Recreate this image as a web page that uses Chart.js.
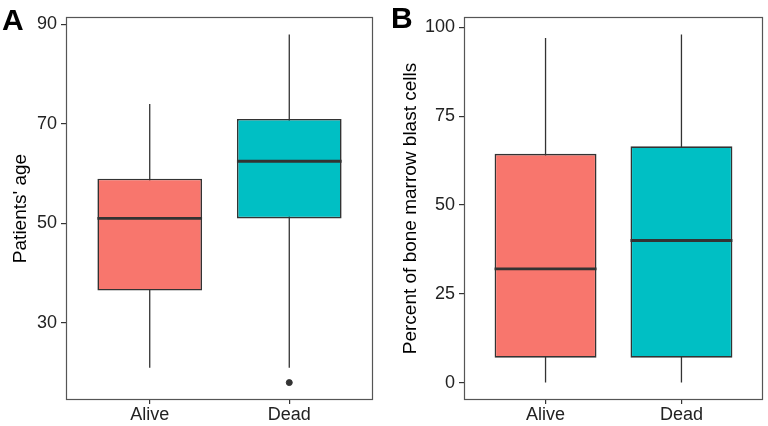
<!DOCTYPE html>
<html>
<head>
<meta charset="utf-8">
<script src="https://cdn.jsdelivr.net/npm/chart.js@4.4.1/dist/chart.umd.min.js"></script>
<style>
  body { margin: 0; background: #fff; }
  #wrap { position: relative; width: 768px; height: 426px; overflow: hidden; }
  canvas { position: absolute; top: 0; }
  .panel-label { position: absolute; font: bold 30px "Liberation Sans", Arial, sans-serif; color: #000; line-height: 1; }
</style>
</head>
<body>
<div id="wrap">
  <canvas id="chartA" width="384" height="426" style="left:0"></canvas>
  <canvas id="chartB" width="384" height="426" style="left:384px"></canvas>
  <div class="panel-label" style="left:2px; top:5px">A</div>
  <div class="panel-label" style="left:391px; top:3px">B</div>
</div>
<script>
// Categories and box plot statistics
const categories = ["Alive", "Dead"];

// Panel A: patients' age
const ageLow = [21, 21];
const ageQ1 = [36.5, 51];
const ageMedian = [51, 62.5];
const ageQ3 = [59, 71];
const ageHigh = [74, 88];
const ageOutliers = [[], [18]];
const ageTicks = [30, 50, 70, 90];

// Panel B: percent of bone marrow blast cells
const blastLow = [0, 0];
const blastQ1 = [7, 7];
const blastMedian = [32, 40];
const blastQ3 = [64.4, 66.5];
const blastHigh = [97, 98];
const blastOutliers = [[], []];
const blastTicks = [0, 25, 50, 75, 100];

const boxColors = ["#F8766D", "#00BFC4"];
const BOX_WIDTH = 0.75;

Chart.defaults.font.family = '"Liberation Sans", Arial, sans-serif';
Chart.defaults.animation = false;

// draw the panel border around the plotting area
const framePlugin = {
  id: "frame",
  afterDraw(chart) {
    const a = chart.chartArea;
    const ctx = chart.ctx;
    ctx.save();
    ctx.strokeStyle = "#555";
    ctx.lineWidth = 1.2;
    ctx.strokeRect(a.left + 0.5, a.top + 0.5, a.right - a.left - 1, a.bottom - a.top - 1);
    ctx.restore();
  }
};

function buildDatasets(low, q1, med, q3, high, outliers) {
  const sets = [];
  categories.forEach((c, i) => {
    const x = i + 1;
    // whisker
    sets.push({
      type: "line",
      data: [{ x: x, y: low[i] }, { x: x, y: high[i] }],
      borderColor: "#333",
      borderWidth: 1.3,
      pointRadius: 0,
      order: 3
    });
    // median
    sets.push({
      type: "line",
      data: [{ x: x - BOX_WIDTH / 2, y: med[i] }, { x: x + BOX_WIDTH / 2, y: med[i] }],
      borderColor: "#333",
      borderWidth: 2.8,
      pointRadius: 0,
      order: 1
    });
    if (outliers[i].length) {
      sets.push({
        type: "scatter",
        data: outliers[i].map(v => ({ x: x, y: v })),
        backgroundColor: "#333",
        borderColor: "#333",
        pointRadius: 3,
        order: 0
      });
    }
  });
  // boxes
  sets.push({
    type: "bar",
    data: categories.map((c, i) => ({ x: i + 1, y: [q1[i], q3[i]] })),
    backgroundColor: boxColors,
    borderColor: "#333",
    borderWidth: 1.6,
    borderSkipped: false,
    barPercentage: BOX_WIDTH,
    categoryPercentage: 1,
    order: 2
  });
  return sets;
}

function makeChart(id, datasets, yMin, yMax, yTicks, yTitle, pad, yWidth, titlePad) {
  return new Chart(document.getElementById(id), {
    type: "bar",
    data: { datasets: datasets },
    plugins: [framePlugin],
    options: {
      responsive: false,
      layout: { padding: pad },
      plugins: { legend: { display: false }, tooltip: { enabled: false } },
      scales: {
        x: {
          type: "linear",
          min: 0.4,
          max: 2.6,
          offset: false,
          afterBuildTicks: s => { s.ticks = categories.map((c, i) => ({ value: i + 1 })); },
          afterFit: s => { s.height = 26; },
          ticks: {
            callback: v => categories[v - 1],
            color: "#222",
            font: { size: 18 },
            padding: 0,
            maxRotation: 0
          },
          grid: { offset: false, drawOnChartArea: false, tickLength: 4, tickColor: "#333", lineWidth: 1.2 },
          border: { display: false }
        },
        y: {
          min: yMin,
          max: yMax,
          afterBuildTicks: s => { s.ticks = yTicks.map(v => ({ value: v })); },
          afterFit: s => { s.width = yWidth; },
          ticks: { color: "#222", font: { size: 18 }, padding: 4 },
          grid: { drawOnChartArea: false, tickLength: 5, tickColor: "#333", lineWidth: 1.2 },
          border: { display: false },
          title: {
            display: true,
            text: yTitle,
            color: "#000",
            font: { size: 19 },
            padding: { top: titlePad, bottom: 0 }
          }
        }
      }
    }
  });
}

makeChart("chartA",
  buildDatasets(ageLow, ageQ1, ageMedian, ageQ3, ageHigh, ageOutliers),
  14.5, 91.5, ageTicks, "Patients' age",
  { left: 0, right: 11, top: 17, bottom: 0 }, 66, 9);

makeChart("chartB",
  buildDatasets(blastLow, blastQ1, blastMedian, blastQ3, blastHigh, blastOutliers),
  -4.9, 102.9, blastTicks, "Percent of bone marrow blast cells",
  { left: 0, right: 5, top: 17, bottom: 0 }, 80, 15);
</script>
</body>
</html>
